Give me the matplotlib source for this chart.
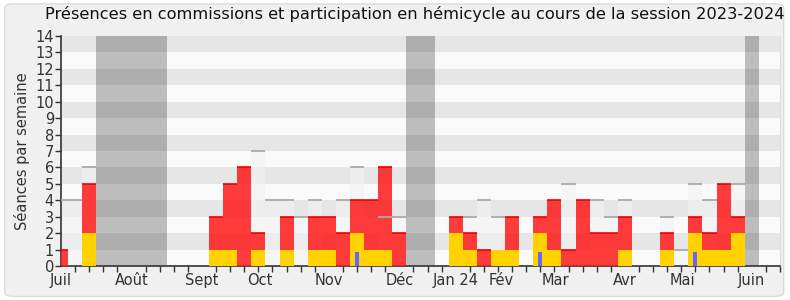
import numpy as np
import matplotlib
matplotlib.use("Agg")
import matplotlib.pyplot as plt
from matplotlib.patches import FancyBboxPatch

# weekly values, July 2023 -> June 2024 (52 weeks)
commission = [0, 0, 2, 0, 0, 0, 0, 0, 0, 0,
              0, 1, 1, 0, 1, 0, 1, 0, 1, 1,
              0, 2, 1, 1, 0, 0, 0, 0, 2, 1,
              0, 1, 1, 0, 2, 1, 0, 0, 0, 0,
              1, 0, 0, 1, 0, 2, 1, 1, 2, 0,
              0, 0]
total = [1, 0, 5, 0, 0, 0, 0, 0, 0, 0,
         0, 3, 5, 6, 2, 0, 3, 0, 3, 3,
         2, 4, 4, 6, 2, 0, 0, 0, 3, 2,
         1, 1, 3, 0, 3, 4, 1, 4, 2, 2,
         3, 0, 0, 2, 0, 3, 2, 5, 3, 0,
         0, 0]
median = [4, 4, 6, 0, 0, 0, 0, 0, 0, 0,
          0, 0, 0, 0, 7, 4, 4, 3, 4, 0,
          4, 6, 0, 3, 3, 0, 0, 0, 0, 3,
          4, 3, 0, 0, 0, 0, 5, 0, 4, 3,
          4, 0, 0, 3, 1, 5, 4, 0, 5, 0,
          0, 0]
questions = [0] * 52
questions[21] = 0.85
questions[34] = 0.85
questions[45] = 0.85

vacances = [(2.5, 7.5), (24.5, 26.5), (48.5, 49.5)]
mois = ["Juil", "Août", "Sept", "Oct", "Nov", "Déc", "Jan 24", "Fév", "Mar", "Avr", "Mai", "Juin"]
mois_pos = [0, 5, 10, 14.1, 19, 24, 28, 31.2, 35.1, 40, 44.1, 49]

weeks = np.arange(len(total))
commission = np.array(commission)
hemi = np.array(total) - commission

fig = plt.figure(figsize=(7.9, 3.0), dpi=100)
fig.patch.set_facecolor("white")
fig.patches.append(FancyBboxPatch((0.006, 0.012), 0.986, 0.975, boxstyle="round,pad=0,rounding_size=0.012",
                                  transform=fig.transFigure, facecolor="#f0f0f0",
                                  edgecolor="#dcdcdc", linewidth=1, zorder=-10))

ax = fig.add_axes([0.0772, 0.1133, 0.9101, 0.7667])
ax.set_facecolor("#fafafa")

for a, b in vacances:
    ax.axvspan(a, b, color="#bdbdbd", zorder=0, lw=0)
for i in range(1, 14, 2):
    ax.axhspan(i, i + 1, color="black", alpha=0.08, zorder=1, lw=0)

# median boxes
ax.bar(weeks, median, width=1, color="#f2f2f2", alpha=0.6, zorder=2, lw=0)
ax.bar(weeks, commission, width=1, color="#ffd200", zorder=3, lw=0)
ax.bar(weeks, hemi, width=1, bottom=commission, color="#ff1a1a", alpha=0.85, zorder=3, lw=0)
ax.bar(weeks, questions, width=0.3, color="#6666ff", zorder=4, lw=0)
for k, v in enumerate(total):
    if v > 0 and hemi[k] > 0:
        ax.hlines(v, k - 0.5, k + 0.5, color="#ee0000", lw=1.2, zorder=4)
for k, v in enumerate(median):
    if v > 0:
        ax.hlines(v, k - 0.5, k + 0.5, color="#aaaaaa", lw=1.3, zorder=5)

ax.set_xlim(0, 51)
ax.set_ylim(0, 14)
ax.set_yticks(range(15))
ax.set_xticks(range(52), minor=True)
ax.set_xticks(mois_pos)
ax.set_xticklabels(mois)
ax.tick_params(axis="both", which="both", direction="out", length=4, width=1, color="#333333",
               labelsize=10.5, labelcolor="#333333", pad=1)
ax.tick_params(axis="x", which="major", length=0, pad=5)

ax.spines["top"].set_visible(False)
ax.spines["right"].set_color("#dddddd")
ax.spines["left"].set_color("#333333")
ax.spines["bottom"].set_color("#333333")
ax.spines["left"].set_linewidth(1.2)
ax.spines["bottom"].set_linewidth(1.2)

ax.set_ylabel("Séances par semaine", fontsize=10.5, color="#333333", labelpad=4)
fig.text(0.525, 0.953, "Présences en commissions et participation en hémicycle au cours de la session 2023-2024",
         ha="center", va="center", fontsize=11.7, color="#111111")

fig.savefig("out.png", dpi=100)
